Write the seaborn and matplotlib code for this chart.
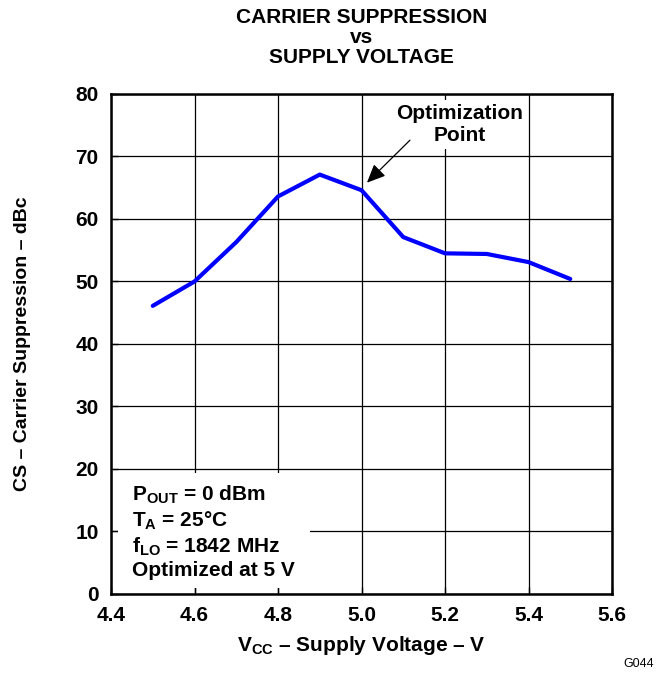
import numpy as np
import pandas as pd
import matplotlib
matplotlib.use("Agg")
import matplotlib.pyplot as plt
from matplotlib.patches import Rectangle
import seaborn as sns


# values
supply_voltage = [4.5, 4.6, 4.7, 4.8, 4.9, 5.0, 5.1, 5.2, 5.3, 5.4, 5.5]
carrier_suppression = [46.1, 50.0, 56.3, 63.6, 67.1, 64.6, 57.1, 54.5, 54.4, 53.1, 50.4]

x_ticks = [4.4, 4.6, 4.8, 5.0, 5.2, 5.4, 5.6]
y_ticks = [0, 10, 20, 30, 40, 50, 60, 70, 80]

conditions = [
    r"P$_{\mathrm{OUT}}$ = 0 dBm",
    r"T$_{\mathrm{A}}$ = 25°C",
    r"f$_{\mathrm{LO}}$ = 1842 MHz",
    "Optimized at 5 V",
]

FS = 15

sns.set_style("white")
plt.rcParams["font.family"] = ["Liberation Sans", "DejaVu Sans"]
plt.rcParams["font.weight"] = "bold"
plt.rcParams["text.color"] = "black"
plt.rcParams["axes.labelcolor"] = "black"
plt.rcParams["xtick.color"] = "black"
plt.rcParams["ytick.color"] = "black"
plt.rcParams["mathtext.fontset"] = "custom"
plt.rcParams["mathtext.rm"] = "Liberation Sans:bold"
plt.rcParams["mathtext.it"] = "Liberation Sans:bold"
plt.rcParams["mathtext.bf"] = "Liberation Sans:bold"

df = pd.DataFrame({"vcc": supply_voltage, "cs": carrier_suppression})

fig = plt.figure(figsize=(6.64, 6.73), dpi=100)
ax = fig.add_axes([0.1672, 0.1174, 0.7545, 0.743])

sns.lineplot(data=df, x="vcc", y="cs", color="#0000ff", linewidth=3.0, ax=ax, zorder=3)

ax.set_xlim(4.4, 5.6)
ax.set_ylim(0, 80)
ax.set_xticks(x_ticks)
ax.set_yticks(y_ticks)
ax.set_xticklabels([f"{v:.1f}" for v in x_ticks])
ax.grid(True, color="black", linewidth=0.9)
ax.set_axisbelow(True)
ax.tick_params(direction="in", length=5, width=1, labelsize=FS, pad=9,
               bottom=True, left=True)
for spine in ax.spines.values():
    spine.set_linewidth(1.8)
    spine.set_color("black")

ax.set_xlabel(r"V$_{\mathrm{CC}}$ – Supply Voltage – V", fontsize=FS, fontweight="bold", labelpad=6)
ax.set_ylabel("CS – Carrier Suppression – dBc", fontsize=14, fontweight="bold", labelpad=32)

fig.text(0.5 * (0.1672 + 0.9217), 0.988, "CARRIER SUPPRESSION\nvs\nSUPPLY VOLTAGE",
         ha="center", va="top", fontsize=FS, fontweight="bold", linespacing=1.05)

# annotation text and its arrow
ax.text(5.236, 75.1, "Optimization\nPoint", ha="center", va="center", fontsize=FS,
        fontweight="bold", linespacing=1.2,
        bbox=dict(boxstyle="square,pad=0.2", fc="white", ec="none"), zorder=4)
ax.annotate("", xy=(5.013, 65.8), xytext=(5.116, 72.6),
            arrowprops=dict(arrowstyle="-|>,head_length=0.45,head_width=0.2",
                            color="black", lw=0.9, mutation_scale=25,
                            shrinkA=0, shrinkB=0),
            zorder=4)

# white panel behind the test conditions
ax.add_patch(Rectangle((0.014, 0.012), 0.383, 0.23, transform=ax.transAxes,
                       fc="white", ec="none", zorder=1))
ax.text(4.45, 17.6, "\n".join(conditions), ha="left", va="top", fontsize=FS,
        fontweight="bold", linespacing=1.2, zorder=4)

fig.text(0.985, 0.005, "G044", ha="right", va="bottom", fontsize=9, fontweight="normal")

fig.savefig("out.png", dpi=100)
